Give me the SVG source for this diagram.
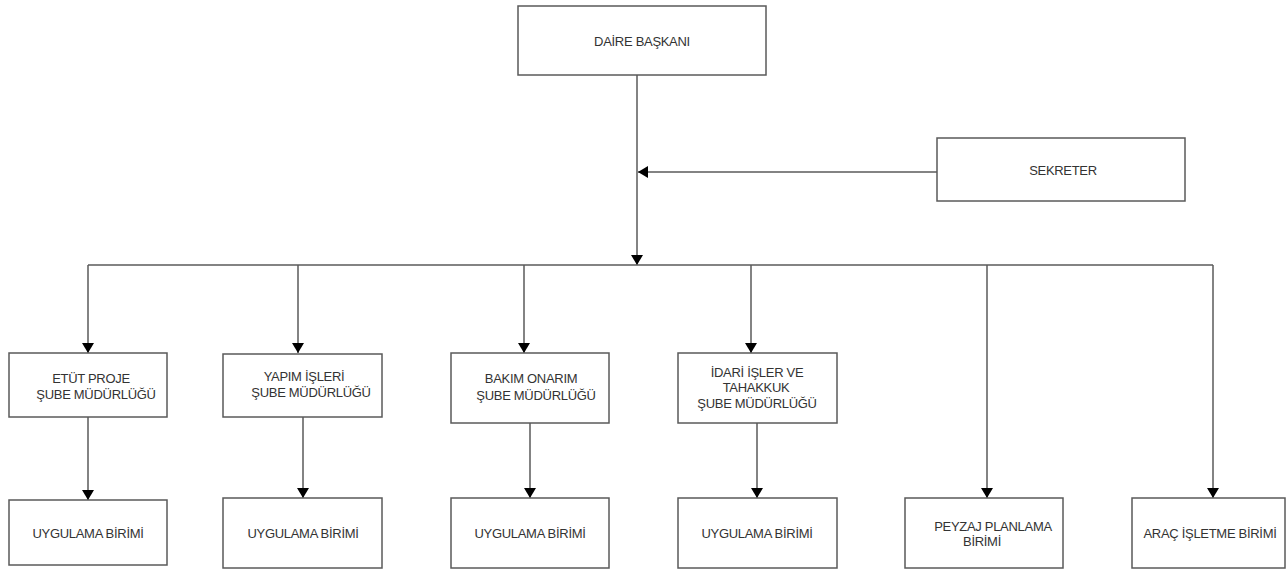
<svg xmlns="http://www.w3.org/2000/svg" width="1288" height="572" viewBox="0 0 1288 572">
<style>
.box{fill:#fff;stroke:#5a5a5a;stroke-width:1.5}
.t{font-family:"Liberation Sans",Arial,sans-serif;font-size:13px;fill:#333;text-anchor:middle;letter-spacing:-0.3px}
.c{fill:none;stroke:#5a5a5a;stroke-width:1.5}
</style>
<defs>
<marker id="ah" viewBox="0 0 10 12" refX="10" refY="6" markerWidth="11" markerHeight="12" markerUnits="userSpaceOnUse" orient="auto">
<path d="M0,0 L10,6 L0,12 z" fill="#000"/>
</marker>
</defs>
<g id="connectors">
<line class="c" x1="637" y1="75" x2="637" y2="265" marker-end="url(#ah)"/>
<line class="c" x1="937" y1="172" x2="638" y2="172" marker-end="url(#ah)"/>
<line class="c" x1="88" y1="265" x2="1213" y2="265"/>
<line class="c" x1="88" y1="265" x2="88" y2="353" marker-end="url(#ah)"/>
<line class="c" x1="298" y1="265" x2="298" y2="353" marker-end="url(#ah)"/>
<line class="c" x1="524" y1="265" x2="524" y2="353" marker-end="url(#ah)"/>
<line class="c" x1="751" y1="265" x2="751" y2="353" marker-end="url(#ah)"/>
<line class="c" x1="987" y1="265" x2="987" y2="498" marker-end="url(#ah)"/>
<line class="c" x1="1213" y1="265" x2="1213" y2="498" marker-end="url(#ah)"/>
<line class="c" x1="88" y1="417" x2="88" y2="500" marker-end="url(#ah)"/>
<line class="c" x1="303" y1="417" x2="303" y2="498" marker-end="url(#ah)"/>
<line class="c" x1="530" y1="423" x2="530" y2="498" marker-end="url(#ah)"/>
<line class="c" x1="757" y1="423" x2="757" y2="498" marker-end="url(#ah)"/>
</g>
<g id="daire">
<rect class="box" x="518" y="6" width="248" height="69"/>
<text class="t" x="642" y="46">DAİRE BAŞKANI</text>
</g>
<g id="sekreter">
<rect class="box" x="937" y="138" width="248" height="63"/>
<text class="t" x="1063" y="175">SEKRETER</text>
</g>
<g id="etut">
<rect class="box" x="9" y="353" width="158" height="64"/>
<text class="t" x="91" y="383">ETÜT PROJE</text>
<text class="t" x="96" y="399">ŞUBE MÜDÜRLÜĞÜ</text>
</g>
<g id="yapim">
<rect class="box" x="223" y="354" width="159" height="63"/>
<text class="t" x="304" y="381">YAPIM İŞLERİ</text>
<text class="t" x="311" y="397">ŞUBE MÜDÜRLÜĞÜ</text>
</g>
<g id="bakim">
<rect class="box" x="451" y="353" width="158" height="70"/>
<text class="t" x="531" y="383">BAKIM ONARIM</text>
<text class="t" x="536" y="400">ŞUBE MÜDÜRLÜĞÜ</text>
</g>
<g id="idari">
<rect class="box" x="678" y="353" width="159" height="70"/>
<text class="t" x="757" y="377">İDARİ İŞLER VE</text>
<text class="t" x="756" y="392">TAHAKKUK</text>
<text class="t" x="757" y="408">ŞUBE MÜDÜRLÜĞÜ</text>
</g>
<g id="uyg1">
<rect class="box" x="9" y="500" width="158" height="65"/>
<text class="t" x="88" y="538">UYGULAMA BİRİMİ</text>
</g>
<g id="uyg2">
<rect class="box" x="223" y="498" width="159" height="70"/>
<text class="t" x="303" y="538">UYGULAMA BİRİMİ</text>
</g>
<g id="uyg3">
<rect class="box" x="451" y="498" width="158" height="70"/>
<text class="t" x="530" y="538">UYGULAMA BİRİMİ</text>
</g>
<g id="uyg4">
<rect class="box" x="678" y="498" width="159" height="70"/>
<text class="t" x="757" y="538">UYGULAMA BİRİMİ</text>
</g>
<g id="peyzaj">
<rect class="box" x="905" y="498" width="158" height="70"/>
<text class="t" x="993" y="531">PEYZAJ PLANLAMA</text>
<text class="t" x="982" y="546">BİRİMİ</text>
</g>
<g id="arac">
<rect class="box" x="1132" y="498" width="153" height="70"/>
<text class="t" x="1210" y="538">ARAÇ İŞLETME BİRİMİ</text>
</g>
</svg>
